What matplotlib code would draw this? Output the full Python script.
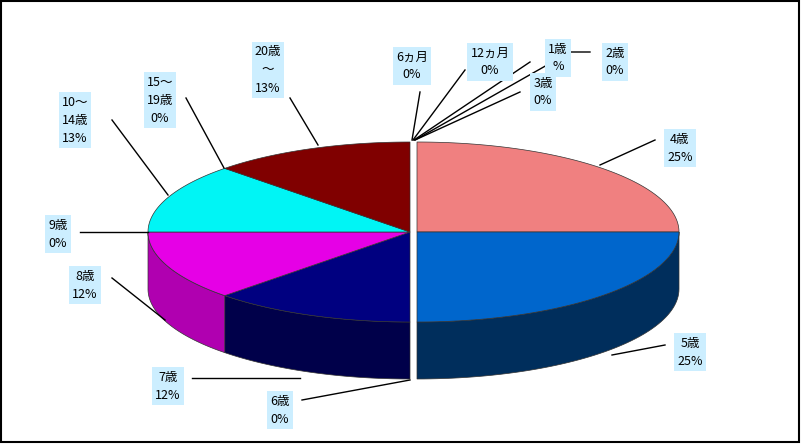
import numpy as np
import matplotlib
matplotlib.use("Agg")
import matplotlib.pyplot as plt
from matplotlib.patches import Polygon, Rectangle

plt.rcParams['font.family'] = ['Noto Sans CJK JP', 'DejaVu Sans']

categories = ["6ヵ月", "12ヵ月", "1歳", "2歳", "3歳", "4歳", "5歳", "6歳",
              "7歳", "8歳", "9歳", "10～\n14歳", "15～\n19歳", "20歳\n～"]
counts = [0, 0, 0, 0, 0, 2, 2, 0, 1, 1, 0, 1, 0, 1]
pct_labels = ["0%", "0%", "%", "0%", "0%", "25%", "25%", "0%",
              "12%", "12%", "0%", "13%", "0%", "13%"]
top_colors = ["#F08080"] * 5 + ["#F08080", "#0066CC", "#0066CC", "#000080",
                                  "#E600E6", "#E600E6", "#00F5F5", "#00F5F5", "#800000"]
side_colors = ["#A05050"] * 5 + ["#A05050", "#002E5C", "#002E5C", "#00004A",
                                   "#B000B0", "#B000B0", "#00A0A0", "#00A0A0", "#4A0000"]

# label box centres and leader-line ends (pixels)
label_pos = [(412, 66), (490, 62), (558, 58), (615, 62), (543, 92), (680, 148),
             (690, 352), (280, 410), (168, 386), (85, 285), (58, 234),
             (75, 120), (160, 100), (268, 70)]
leader = [[(420, 92), (412, 140)], [(465, 70), (413, 140)], [(530, 62), (414, 140)],
          [(590, 52), (570, 52), (415, 140)], [(520, 92), (415, 140)],
          [(655, 140), (600, 165)], [(665, 345), (612, 355)],
          [(302, 400), (410, 380)], [(192, 378), (300, 378)],
          [(112, 278), (165, 320)], [(80, 232), (148, 232)],
          [(112, 120), (168, 195)], [(186, 98), (224, 168)], [(290, 98), (318, 145)]]

cx, cy, rx, ry, depth = 410, 232, 262, 90, 57
explode = {5: (7, 0), 6: (7, 0)}

fig = plt.figure(figsize=(8.01, 4.44), dpi=100)
ax = fig.add_axes([0, 0, 1, 1])
ax.set_xlim(0, 801)
ax.set_ylim(444, 0)
ax.axis("off")
ax.add_patch(Rectangle((1, 1), 798, 441, fill=False, ec="black", lw=1.5))

total = sum(counts)
angles = [90.0]
for c in counts:
    angles.append(angles[-1] - 360.0 * c / total)

def pt(a, dx, dy, down=0):
    r = np.radians(a)
    return (cx + dx + rx * np.cos(r), cy + dy - ry * np.sin(r) + down)

# side walls
for i, c in enumerate(counts):
    if c == 0:
        continue
    dx, dy = explode.get(i, (0, 0))
    a1, a2 = angles[i], angles[i + 1]
    lo, hi = max(a2, -180), min(a1, 0)
    if a1 > 0 and a2 < -180:
        lo, hi = -180, 0
    if hi > lo:
        arc = np.linspace(hi, lo, 60)
        top = [pt(a, dx, dy) for a in arc]
        bot = [pt(a, dx, dy, depth) for a in arc[::-1]]
        ax.add_patch(Polygon(top + bot, fc=side_colors[i], ec="#333333", lw=0.5))

# top faces
for i, c in enumerate(counts):
    if c == 0:
        continue
    dx, dy = explode.get(i, (0, 0))
    arc = np.linspace(angles[i], angles[i + 1], 80)
    pts = [(cx + dx, cy + dy)] + [pt(a, dx, dy) for a in arc]
    ax.add_patch(Polygon(pts, fc=top_colors[i], ec="#333333", lw=0.5))

for i, name in enumerate(categories):
    line = leader[i]
    ax.plot([p[0] for p in line], [p[1] for p in line], color="black", lw=1)
for i, name in enumerate(categories):
    x, y = label_pos[i]
    ax.text(x, y, name + "\n" + pct_labels[i], ha="center", va="center", fontsize=9,
            linespacing=1.5,
            bbox=dict(boxstyle="square,pad=0.25", fc="#CCEEFF", ec="none"))

fig.savefig("out.png", dpi=100)
